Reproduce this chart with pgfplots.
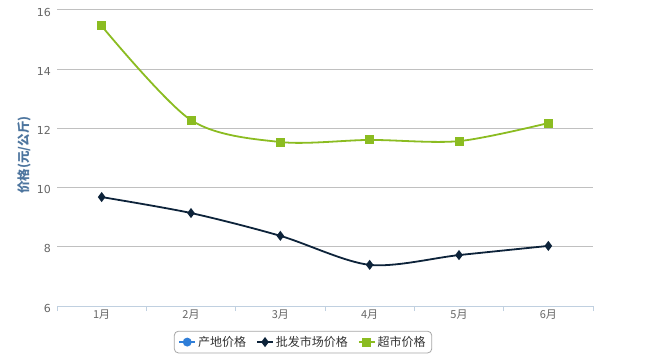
\documentclass[border=0pt]{standalone}
\usepackage{fontspec}
\setmainfont{DejaVu Sans}
\newfontfamily\cjk{Noto Sans CJK SC}
\usepackage{pgfplots}
\pgfplotsset{compat=1.18}
\definecolor{cblue}{HTML}{2F7ED8}
\definecolor{cnavy}{HTML}{0D233A}
\definecolor{cgreen}{HTML}{8BBC21}
\definecolor{tickgray}{HTML}{666666}
\definecolor{gridgray}{HTML}{C0C0C0}
\definecolor{axisline}{HTML}{C0D0E0}
\definecolor{titleblue}{HTML}{4D759E}
\definecolor{legtext}{HTML}{333333}
\begin{document}
\begin{tikzpicture}
\path[use as bounding box] (0,0) rectangle (652bp,354bp);
\begin{axis}[
  at={(57bp,48bp)}, anchor=south west,
  scale only axis, width=536bp, height=296bp,
  xmin=-0.5, xmax=5.5, ymin=6, ymax=16,
  ytick={6,8,...,16},
  xtick={0,...,5},
  xticklabels={1月,2月,3月,4月,5月,6月},
  minor xtick={-0.5,0.5,...,5.5},
  axis x line=bottom, axis y line=left,
  x axis line style={-, draw=axisline, line width=1bp},
  y axis line style={draw=none},
  major tick length=0pt,
  minor tick length=5bp,
  tick align=outside,
  minor x tick style={draw=axisline, line width=1bp},
  ymajorgrids,
  grid style={draw=gridgray, line width=1bp},
  /pgf/number format/assume math mode=true,
  yticklabel style={font=\fontsize{11bp}{13bp}\selectfont, text=tickgray, inner sep=0pt, anchor=east, xshift=-6bp, yshift=-2bp},
  xticklabel style={font=\cjk\fontsize{11bp}{13bp}\selectfont, text=tickgray, inner sep=0pt, anchor=north, yshift=-4bp},
  ylabel={\cjk\bfseries 价格(元/公斤)},
  ylabel style={at={(axis description cs:-0.0616,0.51)}, anchor=center, text=titleblue, font=\fontsize{12.5bp}{14bp}\selectfont},
  clip=false,
  legend columns=3,
  legend style={at={(axis description cs:0.459,-0.084)}, anchor=north,
    draw=gray!70, rounded corners=4bp, line width=0.8bp,
    font=\cjk\fontsize{12bp}{14bp}\selectfont, text=legtext,
    inner xsep=4bp, inner ysep=3bp,
    /tikz/every even column/.append style={column sep=8bp}},
  legend image code/.code={\draw[mark repeat=2,mark phase=2] plot coordinates {(0bp,0bp)(8bp,0bp)(16bp,0bp)};},
]
\addlegendimage{cblue, line width=1.8bp, mark=*, mark size=3.5bp, mark options={solid}}
\addlegendentry{产地价格}
\addplot[cnavy, line width=1.8bp, smooth, tension=0.5, mark=diamond*, mark size=3.6bp]
  coordinates {(0,9.68) (1,9.14) (2,8.37) (3,7.39) (4,7.72) (5,8.03)};
\addlegendentry{批发市场价格}
\addplot[cgreen, line width=1.8bp, smooth, tension=0.5, mark=square*, mark size=3.6bp]
  coordinates {(0,15.46) (1,12.28) (2,11.54) (3,11.61) (4,11.57) (5,12.18)};
\addlegendentry{超市价格}
\end{axis}
\end{tikzpicture}
\end{document}
